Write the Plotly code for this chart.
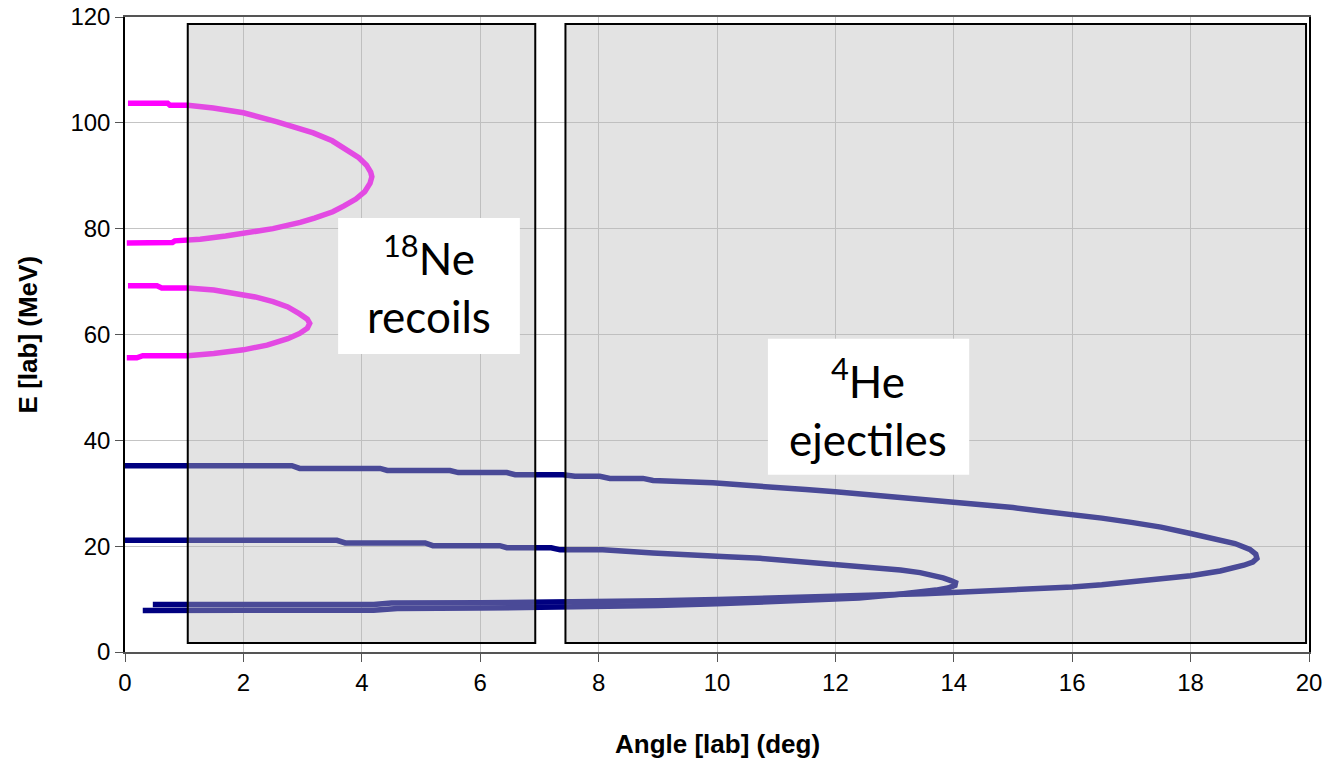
import plotly.graph_objects as go

# ---- data ----
# 18Ne recoils, upper kinematic loop
ne_a_angle = [0.05, 0.72, 0.76, 1.06, 1.49, 2.0, 2.57, 2.9, 3.18, 3.5, 3.75, 3.95, 4.08, 4.15, 4.17, 4.14, 4.05,
              3.9, 3.7, 3.51, 3.2, 2.96, 2.5, 2.11, 1.7, 1.27, 0.84, 0.80, 0.03]
ne_a_energy = [103.7, 103.7, 103.3, 103.3, 102.8, 101.9, 100.2, 99.2, 98.1, 96.6, 94.9, 93.4, 92.0, 90.7, 89.8, 88.6, 87.0,
               85.6, 84.3, 83.2, 82.0, 81.2, 80.0, 79.2, 78.6, 78.0, 77.7, 77.4, 77.3]
# 18Ne recoils, lower kinematic loop
ne_b_angle = [0.05, 0.54, 0.62, 1.06, 1.5, 1.82, 2.2, 2.5, 2.75, 2.95, 3.08, 3.12, 3.08, 2.95, 2.75, 2.4, 2.0, 1.5,
              1.06, 0.30, 0.2, 0.03]
ne_b_energy = [69.2, 69.2, 68.8, 68.8, 68.4, 67.9, 67.1, 66.2, 65.2, 63.9, 62.9, 62.1, 61.2, 60.2, 59.2, 58.0, 57.1, 56.4,
               56.0, 56.0, 55.6, 55.6]
# 4He ejectiles, outer loop
he_a_angle = [0.0, 2.82, 2.95, 4.31, 4.43, 5.49, 5.63, 6.45, 6.59, 7.4, 7.6, 8.02, 8.19, 8.75, 8.92, 9.4, 9.93, 10.5,
              11.0, 11.5, 12.0, 12.5, 13.0, 13.5, 14.0, 14.5, 15.0, 15.5, 16.0, 16.5, 17.0, 17.5, 18.0, 18.4, 18.75,
              19.0, 19.1, 19.12, 19.05, 18.9, 18.5, 18.0, 17.5, 17.0, 16.5, 16.0, 15.5, 15.0, 14.5, 14.0, 13.5, 13.0,
              12.5, 12.0, 11.0, 10.0, 9.0, 8.0, 7.0, 6.0, 4.5, 4.2, 2.0, 0.47]
he_a_energy = [35.2, 35.2, 34.7, 34.7, 34.3, 34.3, 33.9, 33.9, 33.5, 33.5, 33.2, 33.2, 32.8, 32.8, 32.4, 32.2, 32.0, 31.5,
               31.2, 30.7, 30.3, 29.8, 29.4, 28.9, 28.4, 27.9, 27.3, 26.6, 26.0, 25.3, 24.5, 23.6, 22.4, 21.5, 20.5,
               19.4, 18.5, 17.7, 17.0, 16.4, 15.3, 14.4, 13.8, 13.2, 12.7, 12.3, 12.0, 11.7, 11.35, 11.15, 11.0, 10.85,
               10.65, 10.45, 10.15, 9.9, 9.7, 9.5, 9.35, 9.3, 9.25, 9.0, 9.0, 9.0]
# 4He ejectiles, inner loop
he_b_angle = [0.0, 3.58, 3.72, 5.07, 5.2, 6.33, 6.45, 7.2, 7.35, 8.07, 8.92, 9.49, 10.17, 10.73, 11.18, 11.69, 12.25,
              12.8, 13.1, 13.43, 13.65, 13.82, 13.95, 14.03, 14.02, 13.9, 13.7, 13.43, 13.0, 12.4, 11.4, 10.0, 9.0,
              8.0, 6.0, 4.6, 4.2, 2.0, 0.3]
he_b_energy = [21.1, 21.1, 20.6, 20.6, 20.1, 20.1, 19.7, 19.7, 19.3, 19.3, 18.7, 18.3, 18.0, 17.7, 17.3, 16.8, 16.3,
               15.8, 15.5, 15.0, 14.5, 14.0, 13.5, 13.1, 12.6, 12.1, 11.7, 11.3, 10.8, 10.2, 9.7, 9.1, 8.8,
               8.6, 8.3, 8.2, 7.9, 7.9, 7.85]

x_ticks = [0, 2, 4, 6, 8, 10, 12, 14, 16, 18, 20]
y_ticks = [0, 20, 40, 60, 80, 100, 120]

# acceptance windows (angle ranges) and label boxes
windows = [(1.06, 6.93), (7.44, 19.95)]
window_e = (1.7, 118.7)
label_boxes = [(3.60, 6.67, 56.3, 82.0), (10.86, 14.26, 33.5, 59.2)]
labels = ["<sup>18</sup>Ne<br>recoils", "<sup>4</sup>He<br>ejectiles"]
label_pos = [(5.14, 69.4), (12.55, 46.3)]

MAGENTA = "#FF00FF"
NAVY = "#000080"

fig = go.Figure()
for xs, ys, c in [(ne_a_angle, ne_a_energy, MAGENTA), (ne_b_angle, ne_b_energy, MAGENTA),
                  (he_a_angle, he_a_energy, NAVY), (he_b_angle, he_b_energy, NAVY)]:
    fig.add_trace(go.Scatter(x=xs, y=ys, mode="lines",
                             line=dict(color=c, width=5.5), showlegend=False, hoverinfo="skip"))

for x0, x1 in windows:
    fig.add_shape(type="rect", xref="x", yref="y", x0=x0, x1=x1, y0=window_e[0], y1=window_e[1],
                  fillcolor="rgba(186,186,186,0.40)", line=dict(color="black", width=2), layer="above")
for x0, x1, y0, y1 in label_boxes:
    fig.add_shape(type="rect", xref="x", yref="y", x0=x0, x1=x1, y0=y0, y1=y1,
                  fillcolor="white", line=dict(width=0), layer="above")
for txt, (lx, ly) in zip(labels, label_pos):
    fig.add_annotation(x=lx, y=ly, xref="x", yref="y", text=txt, showarrow=False,
                       font=dict(family="Lato", size=44, color="black"), align="center")

fig.add_annotation(x=0.5, y=-0.145, xref="paper", yref="paper", text="<b>Angle [lab] (deg)</b>",
                   showarrow=False, font=dict(family="Liberation Sans", size=26, color="black"),
                   xanchor="center", yanchor="middle")
fig.add_annotation(x=-0.082, y=0.5, xref="paper", yref="paper", text="<b>E [lab] (MeV)</b>",
                   showarrow=False, textangle=-90, font=dict(family="Liberation Sans", size=26, color="black"),
                   xanchor="center", yanchor="middle")

fig.update_layout(
    width=1332, height=762,
    margin=dict(l=125, r=23, t=17, b=110, autoexpand=False),
    paper_bgcolor="white", plot_bgcolor="white",
    font=dict(family="Liberation Sans", size=24, color="black"),
    xaxis=dict(range=[0, 20], tickvals=x_ticks, showgrid=True, gridcolor="#C4C4C4", gridwidth=1,
               zeroline=False, showline=True, linecolor="#555555", linewidth=2, mirror=True, automargin=False,
               ticks="outside", ticklen=8, tickcolor="#555555", tickfont=dict(size=24)),
    yaxis=dict(range=[0, 120], tickvals=y_ticks, showgrid=True, gridcolor="#C4C4C4", gridwidth=1,
               zeroline=False, showline=True, linecolor="black", linewidth=1.5, mirror=True, automargin=False,
               ticks="outside", ticklen=8, tickcolor="#555555", tickfont=dict(size=24)),
)

fig.write_html("out.html")
